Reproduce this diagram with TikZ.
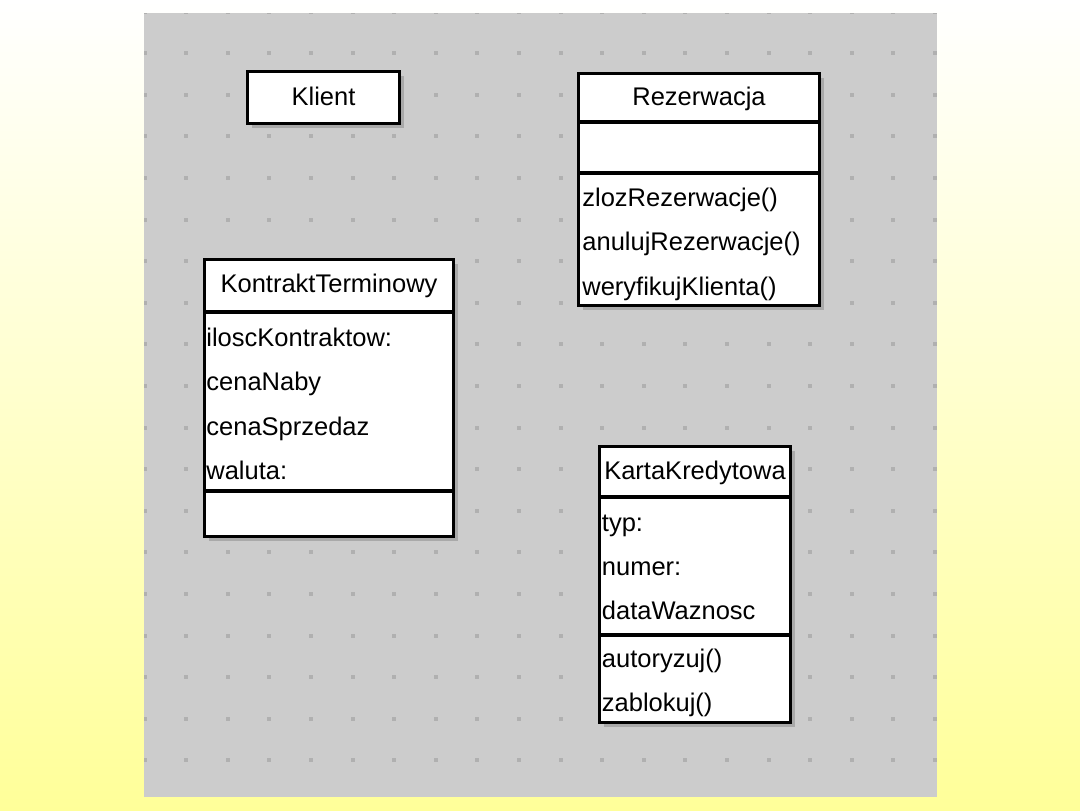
\documentclass[tikz,border=0pt]{standalone}
\usepackage{fontspec}
\setmainfont{Liberation Sans}
\usetikzlibrary{positioning,shadows}

\definecolor{bgyellow}{HTML}{FFFF99}
\definecolor{panelgray}{HTML}{CCCCCC}
\definecolor{dotgray}{HTML}{B0B0B0}

\begin{document}
\begin{tikzpicture}[x=0.5pt,y=-0.5pt]

\tikzset{
  part/.style = {draw, line width=1.6pt, fill=white, inner sep=0pt, outer sep=0pt,
                 drop shadow={shadow xshift=2pt, shadow yshift=-2pt, opacity=0.45}},
  ttl/.style  = {font=\fontsize{12.75}{15}\selectfont, inner sep=0pt, anchor=base},
  mbr/.style  = {font=\fontsize{12.75}{15}\selectfont, inner sep=0pt, anchor=base west},
}

\useasboundingbox (0,0) rectangle (1080,810);
\shade[top color=white, bottom color=bgyellow] (0,0) rectangle (1080,810);
\fill[panelgray] (144,13) rectangle (937,797);
\begin{scope}
  \clip (144,13) rectangle (937,797);
  \foreach \i in {0,...,19}
    \foreach \j in {0,...,18}
      \fill[dotgray] ({144.5+41.6*\i-2},{11.5+41.6*\j-2}) rectangle ++(4,4);
\end{scope}

% Klient
\node[part, anchor=north west, minimum width=76pt, minimum height=26pt] (klient) at (247.5,71.5) {};
\node[ttl] (klientT) at (323.5,105) {Klient};

% Rezerwacja
\node[part, anchor=north west, minimum width=120.5pt, minimum height=24.25pt] (rez) at (578.5,73.5) {};
\node[part, minimum width=120.5pt, minimum height=25.5pt, below=0pt of rez] (rezA) {};
\node[part, minimum width=120.5pt, minimum height=66.25pt, below=0pt of rezA] (rezO) {};
\node[ttl] (rezT) at (699,105) {Rezerwacja};
\foreach \t [count=\k] in {zlozRezerwacje(), anulujRezerwacje(), weryfikujKlienta()}
  \node[mbr] (rezop\k) at (582,{206.5+44.3*(\k-1)}) {\t};

% KontraktTerminowy
\node[part, anchor=north west, minimum width=124.5pt, minimum height=26.25pt] (kon) at (204.5,259.5) {};
\node[part, minimum width=124.5pt, minimum height=89.5pt, below=0pt of kon] (konA) {};
\node[part, minimum width=124.5pt, minimum height=22.75pt, below=0pt of konA] (konO) {};
\node[ttl] (konT) at (329,292.5) {KontraktTerminowy};
\foreach \t [count=\k] in {iloscKontraktow:, cenaNaby, cenaSprzedaz, waluta:}
  \node[mbr] (konat\k) at (206,{346.5+44.3*(\k-1)}) {\t};

% KartaKredytowa
\node[part, anchor=north west, minimum width=95.5pt, minimum height=25.25pt] (kar) at (599.5,446.5) {};
\node[part, minimum width=95.5pt, minimum height=69pt, below=0pt of kar] (karA) {};
\node[part, minimum width=95.5pt, minimum height=43.75pt, below=0pt of karA] (karO) {};
\node[ttl] (karT) at (695,479) {KartaKredytowa};
\foreach \t [count=\k] in {typ:, numer:, dataWaznosc}
  \node[mbr] (karat\k) at (601.5,{531.5+44*(\k-1)}) {\t};
\foreach \t [count=\k] in {autoryzuj(), zablokuj()}
  \node[mbr] (karop\k) at (601.5,{667+44.5*(\k-1)}) {\t};

\end{tikzpicture}
\end{document}
